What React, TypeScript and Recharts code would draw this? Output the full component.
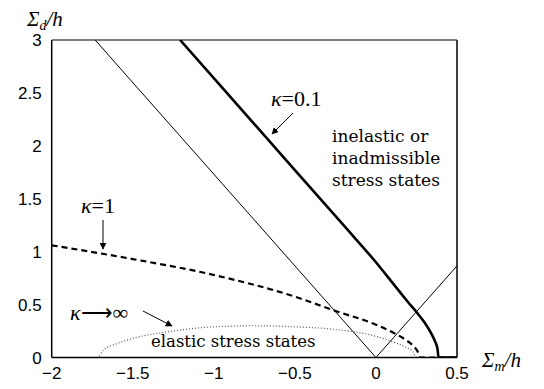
import React from "react";
import { LineChart, Line, XAxis, YAxis } from "recharts";

const xTicks = [-2, -1.5, -1, -0.5, 0, 0.5];
const yTicks = [0, 0.5, 1, 1.5, 2, 2.5, 3];

// thin limit lines |Sigma_d| = sqrt(3)|Sigma_m|
const thinLine = [
  { x: -1.732, y: 3 },
  { x: 0, y: 0 },
  { x: 0.5, y: 0.866 },
];

// kappa = 0.1 (thick)
const kappa01 = [
  { x: -1.208, y: 3 },
  { x: -1.0, y: 2.64 },
  { x: -0.5, y: 1.77 },
  { x: -0.2, y: 1.25 },
  { x: 0, y: 0.9 },
  { x: 0.1, y: 0.71 },
  { x: 0.2, y: 0.52 },
  { x: 0.25, y: 0.43 },
  { x: 0.3, y: 0.33 },
  { x: 0.34, y: 0.23 },
  { x: 0.365, y: 0.15 },
  { x: 0.38, y: 0.08 },
  { x: 0.386, y: 0 },
  { x: 0.5, y: 0 },
];

// kappa = 1 (dashed)
const kappa1 = [
  { x: -2, y: 1.06 },
  { x: -1.5, y: 0.93 },
  { x: -1, y: 0.78 },
  { x: -0.5, y: 0.575 },
  { x: -0.25, y: 0.44 },
  { x: 0, y: 0.31 },
  { x: 0.1, y: 0.24 },
  { x: 0.18, y: 0.17 },
  { x: 0.23, y: 0.11 },
  { x: 0.26, y: 0.05 },
  { x: 0.275, y: 0 },
  { x: 0.5, y: 0 },
];

// kappa -> infinity (dotted)
const kappaInf = [
  { x: -2, y: 0 },
  { x: -1.72, y: 0 },
  { x: -1.68, y: 0.07 },
  { x: -1.6, y: 0.13 },
  { x: -1.5, y: 0.18 },
  { x: -1.25, y: 0.25 },
  { x: -1, y: 0.29 },
  { x: -0.75, y: 0.3 },
  { x: -0.5, y: 0.29 },
  { x: -0.25, y: 0.265 },
  { x: 0, y: 0.2 },
  { x: 0.1, y: 0.15 },
  { x: 0.18, y: 0.1 },
  { x: 0.23, y: 0.05 },
  { x: 0.25, y: 0 },
  { x: 0.5, y: 0 },
];

const fmt = (v: number) => String(v).replace("-", "\u2212");
const tickFont = { fontFamily: "Liberation Sans, Arial, sans-serif", fontSize: 17, fill: "#000" };
const serif = "DejaVu Serif, Liberation Serif, serif";
const mathSerif = "Liberation Serif, serif";

export default function App() {
  return (
    <div style={{ position: "absolute", left: 0, top: 0, width: 544, height: 389, background: "#fff" }}>
      <LineChart width={544} height={389} margin={{ top: 40, right: 87, bottom: 0, left: 0 }}>
        <XAxis
          xAxisId="b"
          dataKey="x"
          type="number"
          domain={[-2, 0.5]}
          ticks={xTicks}
          allowDataOverflow
          height={31.5}
          tickFormatter={fmt}
          tickLine={false}
          tickMargin={3}
          tick={tickFont}
          axisLine={{ stroke: "#000", strokeWidth: 1.5 }}
        />
        <XAxis
          xAxisId="bm"
          dataKey="x"
          type="number"
          domain={[-2, 0.5]}
          ticks={xTicks}
          allowDataOverflow
          mirror
          tick={false}
          tickSize={4}
          tickLine={{ stroke: "#000" }}
          axisLine={false}
        />
        <XAxis
          xAxisId="t"
          orientation="top"
          dataKey="x"
          type="number"
          domain={[-2, 0.5]}
          ticks={xTicks}
          allowDataOverflow
          mirror
          tick={false}
          tickSize={4}
          tickLine={{ stroke: "#000" }}
          axisLine={{ stroke: "#000", strokeWidth: 1.2 }}
        />
        <YAxis
          yAxisId="l"
          type="number"
          domain={[0, 3]}
          ticks={yTicks}
          allowDataOverflow
          width={51.7}
          tickLine={false}
          tick={tickFont}
          tickMargin={4}
          axisLine={{ stroke: "#000", strokeWidth: 1.5 }}
        />
        <YAxis
          yAxisId="lm"
          type="number"
          domain={[0, 3]}
          ticks={yTicks}
          allowDataOverflow
          mirror
          tick={false}
          tickSize={4}
          tickLine={{ stroke: "#000" }}
          axisLine={false}
        />
        <YAxis
          yAxisId="r"
          orientation="right"
          type="number"
          domain={[0, 3]}
          ticks={yTicks}
          allowDataOverflow
          mirror
          tick={false}
          tickSize={4}
          tickLine={{ stroke: "#000" }}
          axisLine={{ stroke: "#000", strokeWidth: 1.5 }}
        />
        <Line xAxisId="b" yAxisId="l" data={kappaInf} dataKey="y" type="monotone" stroke="#555" strokeWidth={1.2} strokeDasharray="1 2" dot={false} isAnimationActive={false} />
        <Line xAxisId="b" yAxisId="l" data={thinLine} dataKey="y" type="linear" stroke="#000" strokeWidth={1} dot={false} isAnimationActive={false} />
        <Line xAxisId="b" yAxisId="l" data={kappa1} dataKey="y" type="monotone" stroke="#000" strokeWidth={2.2} strokeDasharray="6 4" dot={false} isAnimationActive={false} />
        <Line xAxisId="b" yAxisId="l" data={kappa01} dataKey="y" type="monotone" stroke="#000" strokeWidth={2.6} dot={false} isAnimationActive={false} />
      </LineChart>
      <svg width={544} height={389} style={{ position: "absolute", left: 0, top: 0, pointerEvents: "none" }}>
        <defs>
          <marker id="ah" viewBox="0 0 10 10" refX="9" refY="5" markerWidth="7" markerHeight="7" orient="auto-start-reverse">
            <path d="M0,0 L10,5 L0,10 z" fill="#000" />
          </marker>
        </defs>
        <text x={27} y={26} fontFamily={mathSerif} fontSize={21} fontStyle="italic">
          Σ<tspan fontSize={14} dy={4}>d</tspan><tspan dy={-4}>/h</tspan>
        </text>
        <text x={482} y={367} fontFamily={mathSerif} fontSize={21} fontStyle="italic">
          Σ<tspan fontSize={14} dy={4}>m</tspan><tspan dy={-4}>/h</tspan>
        </text>
        <text x={271} y={106} fontFamily={mathSerif} fontSize={22}>
          <tspan fontStyle="italic">κ</tspan>=0.1
        </text>
        <line x1={293} y1={113} x2={272} y2={134} stroke="#000" strokeWidth={1} markerEnd="url(#ah)" />
        <text fontFamily={serif} fontSize={17}>
          <tspan x={332} y={142}>inelastic or</tspan>
          <tspan x={332} y={164}>inadmissible</tspan>
          <tspan x={332} y={186}>stress states</tspan>
        </text>
        <text x={81} y={213} fontFamily={mathSerif} fontSize={22}>
          <tspan fontStyle="italic">κ</tspan>=1
        </text>
        <line x1={103} y1={220} x2={103} y2={249} stroke="#000" strokeWidth={1} markerEnd="url(#ah)" />
        <text x={70} y={320} fontFamily={mathSerif} fontSize={22}>
          <tspan fontStyle="italic">κ</tspan>⟶∞
        </text>
        <line x1={143} y1={311} x2={172} y2={326} stroke="#000" strokeWidth={1} markerEnd="url(#ah)" />
        <text x={151} y={347} fontFamily={serif} fontSize={16.5}>elastic stress states</text>
      </svg>
    </div>
  );
}
